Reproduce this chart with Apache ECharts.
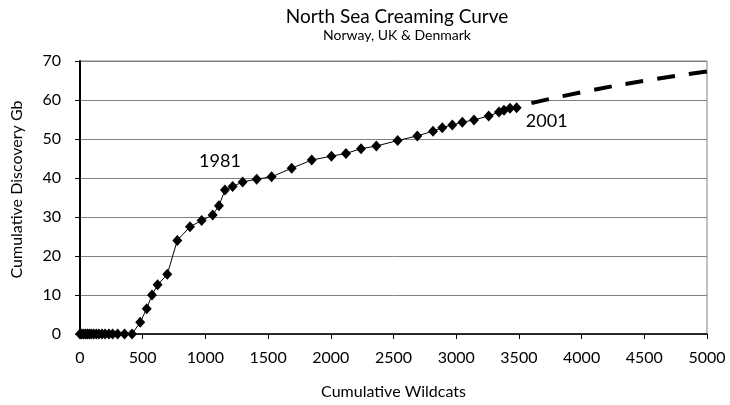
<!DOCTYPE html>
<html>
<head>
<meta charset="utf-8">
<script src="https://cdn.jsdelivr.net/npm/echarts@6/dist/echarts.min.js"></script>
<style>
html,body{margin:0;padding:0;background:#fff;}
#chart{width:730px;height:405px;}
</style>
</head>
<body>
<div id="chart"></div>
<script>
// Cumulative wildcats (x) vs cumulative discovery Gb (y)
var wildcats = [0, 15, 30, 45, 60, 75, 90, 110, 130, 150, 175, 200, 230, 260, 300, 355, 415,
  480, 532, 574, 619, 696, 776, 877, 970, 1058, 1108, 1156, 1217, 1297, 1409, 1528, 1688, 1848,
  2005, 2121, 2241, 2363, 2533, 2690, 2815, 2889, 2969, 3049, 3142, 3259, 3341, 3381, 3429, 3482];
var discovery = [0, 0, 0, 0, 0, 0, 0, 0, 0, 0, 0, 0, 0, 0, 0, 0, 0,
  3.0, 6.5, 10.0, 12.6, 15.3, 24.0, 27.5, 29.1, 30.5, 32.9, 36.9, 37.8, 39.0, 39.7, 40.3, 42.5, 44.6,
  45.6, 46.3, 47.5, 48.2, 49.6, 50.8, 52.0, 52.9, 53.6, 54.3, 54.9, 55.9, 56.9, 57.4, 57.9, 58.0];
// Extrapolated trend (dashed)
var trendX = [3600, 4000, 4500, 5000];
var trendY = [59.2, 62.0, 64.9, 67.3];
// Year annotations
var annText = ['1981', '2001'];
var annX = [1116, 3722];
var annY = [44.2, 54.4];

var xTicks = [0, 500, 1000, 1500, 2000, 2500, 3000, 3500, 4000, 4500, 5000];
var yTicks = [0, 10, 20, 30, 40, 50, 60, 70];

var FONT = 'Lato';
var actual = wildcats.map(function (x, i) { return [x, discovery[i]]; });
var trend = trendX.map(function (x, i) { return [x, trendY[i]]; });
var ann = annText.map(function (t, i) { return { value: [annX[i], annY[i]], name: t }; });

var chart = echarts.init(document.getElementById('chart'), null, { renderer: 'canvas' });
chart.setOption({
  animation: false,
  backgroundColor: '#ffffff',
  textStyle: { fontFamily: FONT, color: '#000' },
  title: {
    text: 'North Sea Creaming Curve',
    subtext: 'Norway, UK & Denmark',
    left: 392,
    textAlign: 'center',
    top: 2,
    itemGap: 2,
    textStyle: { fontFamily: FONT, fontSize: 19, fontWeight: 'normal', color: '#000' },
    subtextStyle: { fontFamily: FONT, fontSize: 14, color: '#000' }
  },
  grid: { left: 80, right: 23, top: 61, bottom: 71, show: true, borderColor: '#808080', borderWidth: 1 },
  xAxis: {
    type: 'value',
    min: xTicks[0], max: xTicks[xTicks.length - 1], interval: 500,
    name: 'Cumulative Wildcats',
    nameLocation: 'middle',
    nameGap: 50,
    nameTextStyle: { fontFamily: FONT, fontSize: 16, color: '#000' },
    axisLine: { show: true, lineStyle: { color: '#000', width: 1.5 } },
    axisTick: { show: true, length: 5, lineStyle: { color: '#000' } },
    axisLabel: { fontFamily: FONT, fontSize: 16, color: '#000', margin: 16,
      formatter: function (v) { return String(v); } },
    splitLine: { show: false }
  },
  yAxis: {
    type: 'value',
    min: yTicks[0], max: yTicks[yTicks.length - 1], interval: 10,
    name: 'Cumulative Discovery Gb',
    nameLocation: 'middle',
    nameGap: 55,
    nameTextStyle: { fontFamily: FONT, fontSize: 16, color: '#000', padding: [0, 0, 0, 16] },
    axisLine: { show: true, lineStyle: { color: '#000', width: 2 } },
    axisTick: { show: true, length: 5, lineStyle: { color: '#000' } },
    axisLabel: { fontFamily: FONT, fontSize: 16, color: '#000', margin: 19,
      formatter: function (v) { return String(v); } },
    splitLine: { show: true, lineStyle: { color: '#808080', width: 1 } }
  },
  series: [
    {
      type: 'line',
      data: actual,
      symbol: 'diamond',
      symbolSize: [10, 11],
      itemStyle: { color: '#000' },
      lineStyle: { color: '#000', width: 1 },
      z: 3
    },
    {
      type: 'line',
      data: trend,
      smooth: true,
      showSymbol: false,
      symbol: 'none',
      lineStyle: { color: '#000', width: 4, type: [18, 14] },
      z: 2
    },
    {
      type: 'scatter',
      data: ann,
      symbol: 'circle',
      symbolSize: 1,
      itemStyle: { color: '#ffffff', opacity: 0 },
      label: {
        show: true,
        position: 'top',
        distance: -9,
        formatter: function (p) { return p.name; },
        fontFamily: FONT, fontSize: 18, color: '#000000', opacity: 1,
        textBorderWidth: 0
      },
      z: 4
    }
  ]
});
</script>
</body>
</html>
